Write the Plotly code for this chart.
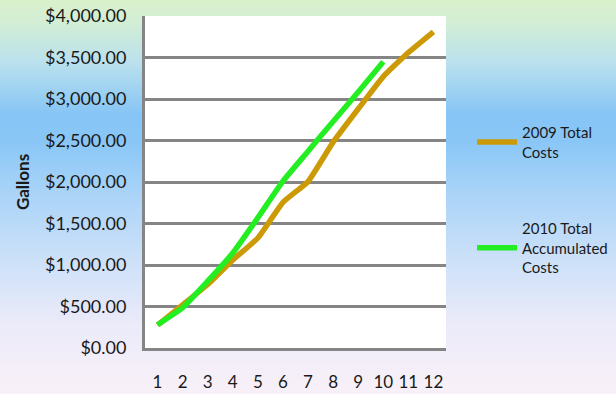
import base64
import struct
import zlib

import numpy as np
import plotly.graph_objects as go

# ---- data -------------------------------------------------------------
months = [1, 2, 3, 4, 5, 6, 7, 8, 9, 10, 11, 12]
month_labels = ["1", "2", "3", "4", "5", "6", "7", "8", "9", "10", "11", "12"]
costs_2009 = [275, 520, 765, 1060, 1325, 1755, 2005, 2480, 2880, 3270, 3560, 3810]
costs_2010 = [280, 485, 805, 1145, 1570, 2010, 2370, 2730, 3085, 3450]
y_ticks = [0, 500, 1000, 1500, 2000, 2500, 3000, 3500, 4000]
y_tick_text = ["$" + f"{v:,.2f}" for v in y_ticks]

# ---- figure geometry ---------------------------------------------------
W, H = 616, 394
M_L, M_R, M_T, M_B = 145, 170, 16, 46
PW, PH = W - M_L - M_R, H - M_T - M_B


# ---- slide-style gradient backdrop (rendered into a small PNG) ---------
def gradient_png(width, height):
    stops_y = [0.0, 0.06, 0.16, 0.29, 0.36, 0.50, 0.66, 0.82, 1.0]
    stops_c = [
        (218, 241, 204),
        (210, 238, 214),
        (186, 225, 238),
        (134, 197, 246),
        (138, 199, 247),
        (172, 213, 248),
        (205, 225, 249),
        (235, 235, 250),
        (249, 241, 248),
    ]
    ys = np.linspace(0, 1, height)
    cols = np.stack(
        [np.interp(ys, stops_y, [c[i] for c in stops_c]) for i in range(3)], axis=1
    )
    img = np.repeat(cols[:, None, :], width, axis=1).clip(0, 255).astype(np.uint8)
    raw = b"".join(b"\x00" + img[r].tobytes() for r in range(height))

    def chunk(tag, data):
        body = tag + data
        return struct.pack(">I", len(data)) + body + struct.pack(">I", zlib.crc32(body) & 0xFFFFFFFF)

    png = b"\x89PNG\r\n\x1a\n"
    png += chunk(b"IHDR", struct.pack(">IIBBBBB", width, height, 8, 2, 0, 0, 0))
    png += chunk(b"IDAT", zlib.compress(raw, 9))
    png += chunk(b"IEND", b"")
    return "data:image/png;base64," + base64.b64encode(png).decode()


GRID = "#858585"
FONT = "Lato"
INK = "#1a1a1a"

fig = go.Figure()
fig.add_trace(
    go.Scatter(
        x=months,
        y=costs_2009,
        mode="lines",
        name="2009 Total<br>Costs",
        legendgroup="a",
        line=dict(color="#CC9A06", width=5.5, shape="spline", smoothing=0.4),
    )
)
fig.add_trace(
    go.Scatter(
        x=months[: len(costs_2010)],
        y=costs_2010,
        mode="lines",
        name="2010 Total<br>Accumulated<br>Costs",
        legendgroup="b",
        line=dict(color="#22EE22", width=5.5, shape="spline", smoothing=0.4),
    )
)

fig.update_layout(
    width=W,
    height=H,
    margin=dict(l=M_L, r=M_R, t=M_T, b=M_B, pad=0, autoexpand=False),
    paper_bgcolor="#ffffff",
    plot_bgcolor="#ffffff",
    font=dict(family=FONT, color=INK),
    images=[
        dict(
            source=gradient_png(16, H),
            xref="paper",
            yref="paper",
            x=-M_L / PW,
            y=1 + M_T / PH,
            sizex=W / PW,
            sizey=H / PH,
            xanchor="left",
            yanchor="top",
            sizing="stretch",
            layer="below",
        )
    ],
    shapes=[
        dict(
            type="rect",
            xref="x domain",
            yref="y domain",
            x0=0,
            x1=1,
            y0=0,
            y1=1,
            fillcolor="#ffffff",
            line=dict(width=0),
            layer="below",
        )
    ],
    showlegend=True,
    legend=dict(
        xref="container",
        yref="container",
        x=472 / W,
        y=1 - 116 / H,
        xanchor="left",
        yanchor="top",
        bgcolor="rgba(0,0,0,0)",
        font=dict(family=FONT, size=15, color=INK),
        tracegroupgap=54,
        itemwidth=40,
    ),
    xaxis=dict(
        range=[0.5, 12.5],
        tickmode="array",
        tickvals=months,
        ticktext=month_labels,
        showgrid=False,
        zeroline=False,
        showline=True,
        linecolor=GRID,
        linewidth=3,
        ticks="",
        ticklabelstandoff=17,
        tickfont=dict(family=FONT, size=17, color=INK),
        automargin=False,
        fixedrange=True,
    ),
    yaxis=dict(
        range=[0, 4000],
        tickmode="array",
        tickvals=y_ticks,
        ticktext=y_tick_text,
        showgrid=True,
        gridcolor=GRID,
        gridwidth=3,
        zeroline=False,
        showline=True,
        linecolor=GRID,
        linewidth=3,
        ticks="",
        ticklabelstandoff=12,
        tickfont=dict(family=FONT, size=18, color=INK),
        title=dict(
            text="<b>Gallons</b>",
            font=dict(family=FONT, size=17, color=INK),
            standoff=12,
        ),
        automargin=False,
        fixedrange=True,
    ),
)

fig.write_html("out.html")
